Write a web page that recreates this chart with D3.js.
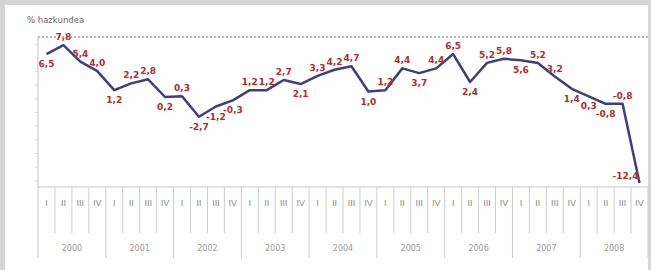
<!DOCTYPE html>
<html>
<head>
<meta charset="utf-8">
<script src="https://cdn.jsdelivr.net/npm/d3@7"></script>
<style>
  body { margin: 0; background: #d5d5d5; }
  svg { display: block; }
  .lbl { font-family: "DejaVu Sans", sans-serif; font-size: 9px; font-weight: bold; fill: #a8302e; }
  .qtr { font-family: "Liberation Sans", sans-serif; font-size: 9px; fill: #8a8a8a; }
  .yr { font-family: "DejaVu Sans", sans-serif; font-size: 8px; fill: #9a9a9a; }
</style>
</head>
<body>
<script>
const years = ['2000', '2001', '2002', '2003', '2004', '2005', '2006', '2007', '2008'];
const quarters = ['I', 'II', 'III', 'IV'];
const values = [
    6.5, 7.8, 5.4, 4.0,
    1.2, 2.2, 2.8, 0.2,
    0.3, -2.7, -1.2, -0.3,
    1.2, 1.2, 2.7, 2.1,
    3.3, 4.2, 4.7, 1.0,
    1.2, 4.4, 3.7, 4.4,
    6.5, 2.4, 5.2, 5.8,
    5.6, 5.2, 3.2, 1.4,
    0.3, -0.8, -0.8, -12.4
];
// where each value label sits: t = above, b = below, l = left
const labelSide = [
    'b', 't', 't', 't',
    'b', 't', 't', 'b',
    't', 'b', 'b', 'b',
    't', 't', 't', 'b',
    't', 't', 't', 'b',
    't', 't', 'b', 't',
    't', 'b', 't', 't',
    'b', 't', 't', 'b',
    'b', 'b', 't', 'l'
];

const W = 651, H = 270;
const mLeft = 38, mRight = 648, mTop = 37, mBottom = 187;

const keys = [];
years.forEach(y => quarters.forEach(q => keys.push(y + '-' + q)));
const data = values.map((v, i) => ({ key: keys[i], q: quarters[i % 4], v: v, side: labelSide[i] }));

const x = d3.scaleBand().domain(keys).range([mLeft, mRight]);
const xYear = d3.scaleBand().domain(years).range([mLeft, mRight]);
const y = d3.scaleLinear().domain([-13, 9]).range([mBottom, mTop]);

const svg = d3.select('body').append('svg')
    .attr('width', W)
    .attr('height', H);

svg.append('rect')
    .attr('x', 5).attr('y', 5)
    .attr('width', 643).attr('height', H - 5)
    .attr('fill', '#fff');

svg.append('text')
    .attr('x', 27).attr('y', 23)
    .attr('font-family', 'DejaVu Sans, sans-serif')
    .attr('font-size', 8.5)
    .attr('fill', '#666')
    .text('% hazkundea');

// top grid line
svg.append('line')
    .attr('x1', mLeft).attr('x2', mRight)
    .attr('y1', mTop).attr('y2', mTop)
    .attr('stroke', '#b5b5b5')
    .attr('stroke-width', 2)
    .attr('stroke-dasharray', '2,2');

// left axis
svg.append('g')
    .attr('transform', 'translate(' + mLeft + ',0)')
    .call(d3.axisLeft(y).ticks(10).tickSize(3).tickFormat(''))
    .call(g => g.select('.domain').remove())
    .call(g => g.selectAll('line').attr('stroke', '#cfe3d6'));

svg.append('line')
    .attr('x1', mLeft).attr('x2', mLeft)
    .attr('y1', mTop).attr('y2', 258)
    .attr('stroke', '#c4c4c4');

svg.append('line')
    .attr('x1', mLeft).attr('x2', mRight)
    .attr('y1', mBottom).attr('y2', mBottom)
    .attr('stroke', '#c8c8c8');

// quarter separators
svg.append('g').selectAll('line')
    .data(keys.slice(1))
    .join('line')
    .attr('x1', d => x(d)).attr('x2', d => x(d))
    .attr('y1', mBottom)
    .attr('y2', d => d.endsWith('-I') ? 258 : 233)
    .attr('stroke', '#cdcdcd');

svg.append('line')
    .attr('x1', mRight).attr('x2', mRight)
    .attr('y1', mBottom).attr('y2', 258)
    .attr('stroke', '#cdcdcd');

svg.append('g').selectAll('text')
    .data(data)
    .join('text')
    .attr('class', 'qtr')
    .attr('x', d => x(d.key) + x.bandwidth() / 2)
    .attr('y', 206)
    .attr('text-anchor', 'middle')
    .text(d => d.q);

svg.append('g').selectAll('text')
    .data(years)
    .join('text')
    .attr('class', 'yr')
    .attr('x', d => xYear(d) + xYear.bandwidth() / 2)
    .attr('y', 251)
    .attr('text-anchor', 'middle')
    .text(d => d);

const line = d3.line()
    .x(d => x(d.key) + x.bandwidth() / 2)
    .y(d => y(d.v));

svg.append('path')
    .datum(data)
    .attr('fill', 'none')
    .attr('stroke', '#3d4079')
    .attr('stroke-width', 2.5)
    .attr('stroke-linejoin', 'round')
    .attr('d', line);

const fmt = v => String(v.toFixed(1)).replace('.', ',');

svg.append('g').selectAll('text')
    .data(data)
    .join('text')
    .attr('class', 'lbl')
    .attr('x', d => x(d.key) + x.bandwidth() / 2 + (d.side === 'l' ? -14 : 0))
    .attr('y', d => y(d.v) + (d.side === 'b' ? 13 : d.side === 'l' ? -4 : -5))
    .attr('text-anchor', 'middle')
    .text(d => fmt(d.v));
</script>
</body>
</html>
